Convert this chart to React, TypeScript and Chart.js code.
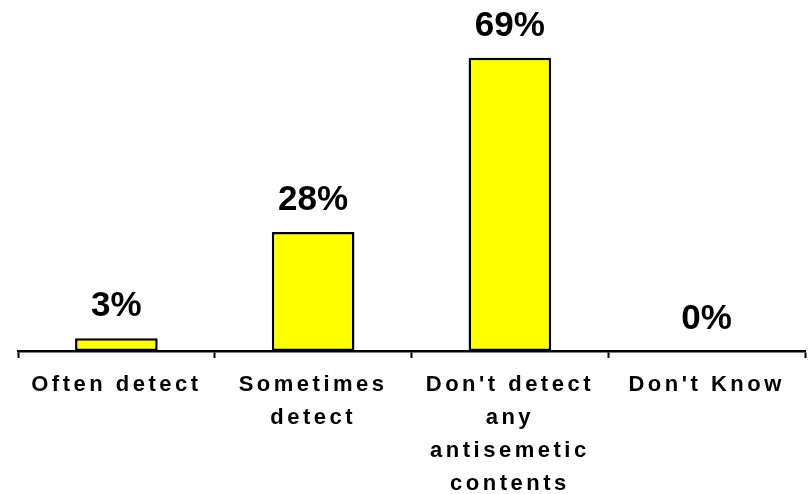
import React, { useEffect, useRef } from "react";
import { Chart, registerables } from "chart.js";

Chart.register(...registerables);

const categories: (string | string[])[] = [
  "Often detect",
  ["Sometimes", "detect"],
  ["Don't detect", "any", "antisemetic", "contents"],
  "Don't Know",
];
const values: number[] = [3, 28, 69, 0];
const valueLabels: string[] = ["3%", "28%", "69%", "0%"];

const FONT = '"Liberation Sans", Arial, Helvetica, sans-serif';

const spacingPlugin = {
  id: "spacing",
  beforeLayout(chart: any) {
    chart.ctx.letterSpacing = "3.5px";
  },
  beforeDraw(chart: any) {
    chart.ctx.letterSpacing = "3.5px";
  },
};

const valueLabelPlugin = {
  id: "valueLabels",
  afterDatasetsDraw(chart: any) {
    const ctx = chart.ctx;
    const meta = chart.getDatasetMeta(0);
    ctx.save();
    ctx.letterSpacing = "0px";
    ctx.font = `bold 35px ${FONT}`;
    ctx.fillStyle = "#000";
    ctx.textAlign = "center";
    ctx.textBaseline = "alphabetic";
    meta.data.forEach((bar: any, i: number) => {
      ctx.fillText(valueLabels[i], bar.x, bar.y - 22);
    });
    ctx.restore();
  },
};

export default function App() {
  const ref = useRef<HTMLCanvasElement>(null);
  useEffect(() => {
    document.body.style.margin = "0";
    document.body.style.overflow = "hidden";
    const chart = new Chart(ref.current!, {
      type: "bar",
      data: {
        labels: categories,
        datasets: [
          {
            data: values,
            backgroundColor: "#FFFF00",
            borderColor: "#000000",
            borderWidth: 2.5,
            borderSkipped: false,
            categoryPercentage: 1,
            barPercentage: 0.42,
          },
        ],
      },
      options: {
        animation: false,
        responsive: false,
        layout: { padding: { top: 11, left: 18, right: 4, bottom: 0 } },
        plugins: { legend: { display: false }, tooltip: { enabled: false } },
        scales: {
          y: { display: false, min: 0, max: 80 },
          x: {
            border: { display: true, color: "#000", width: 2.5 },
            grid: {
              display: true,
              drawOnChartArea: false,
              drawTicks: true,
              tickLength: 7,
              tickColor: "#000",
              tickWidth: 2,
              offset: true,
            },
            ticks: {
              color: "#000",
              font: { family: FONT, size: 22, weight: "bold", lineHeight: 1.5 },
              padding: 10,
              maxRotation: 0,
              minRotation: 0,
              autoSkip: false,
            },
          },
        },
      },
      plugins: [spacingPlugin, valueLabelPlugin],
    });
    return () => chart.destroy();
  }, []);
  return (
    <div style={{ position: "absolute", left: 0, top: 0, width: 809, height: 494, overflow: "hidden" }}>
      <canvas ref={ref} width={809} height={510} />
    </div>
  );
}
